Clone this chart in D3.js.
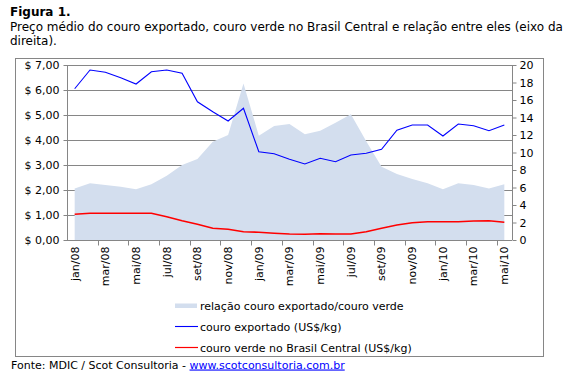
<!DOCTYPE html>
<html><head><meta charset="utf-8">
<script src="https://cdn.jsdelivr.net/npm/d3@7"></script>
<style>
html,body{margin:0;padding:0;background:#fff;}
svg{display:block;}
text{font-family:"DejaVu Sans",Verdana,sans-serif;}
</style></head>
<body>
<svg id="c" width="569" height="381"></svg>
<script>
const months = ["jan/08","fev/08","mar/08","abr/08","mai/08","jun/08","jul/08","ago/08","set/08","out/08","nov/08","dez/08",
  "jan/09","fev/09","mar/09","abr/09","mai/09","jun/09","jul/09","ago/09","set/09","out/09","nov/09","dez/09",
  "jan/10","fev/10","mar/10","abr/10","mai/10"];
const exportado = [6.05,6.80,6.71,6.49,6.24,6.73,6.80,6.67,5.53,5.13,4.76,5.27,3.53,3.45,3.23,3.04,3.27,3.13,3.40,3.47,3.63,4.39,4.60,4.60,4.16,4.64,4.57,4.37,4.60];
const verde = [1.03,1.07,1.07,1.07,1.07,1.07,0.93,0.77,0.63,0.47,0.43,0.33,0.31,0.27,0.24,0.23,0.25,0.24,0.24,0.33,0.47,0.60,0.69,0.73,0.73,0.73,0.76,0.77,0.71];
const relacao = [5.9,6.48,6.29,6.1,5.79,6.36,7.35,8.57,9.26,11.24,12.0,17.9,11.92,13.03,13.26,12.1,12.5,13.4,14.36,11.3,8.38,7.54,6.97,6.48,5.79,6.48,6.29,5.9,6.36];
const leftTicks = [0,1,2,3,4,5,6,7];
const rightTicks = [0,2,4,6,8,10,12,14,16,18,20];
const titleBold = "Figura 1.";
const titleLines = ["Preço médio do couro exportado, couro verde no Brasil Central e relação entre eles (eixo da","direita)."];
const legendLabels = ["relação couro exportado/couro verde","couro exportado (US$/kg)","couro verde no Brasil Central (US$/kg)"];
const sourceText = "Fonte: MDIC / Scot Consultoria - ";
const sourceLink = "www.scotconsultoria.com.br";

const svg = d3.select("#c");
const L = 67, R = 512, T = 65, B = 240;
const grey = "#868686";

// titles
svg.append("text").attr("x",10).attr("y",16).attr("font-size",12).attr("font-weight","bold").attr("fill","#000").text(titleBold);
titleLines.forEach((t,i)=>svg.append("text").attr("x",10).attr("y",31+14*i).attr("font-size",12).attr("fill","#000").text(t));

// frame
svg.append("rect").attr("x",15.5).attr("y",58.5).attr("width",528).attr("height",298).attr("fill","#fff").attr("stroke",grey);

const x = d3.scaleBand().domain(months).range([L,R]).padding(0);
const cx = m => x(m) + x.bandwidth()/2;
const yL = d3.scaleLinear().domain([0,7]).range([B,T]);
const yR = d3.scaleLinear().domain([0,20]).range([B,T]);

// gridlines
svg.append("g").selectAll("line").data(leftTicks.filter(v=>v>0)).join("line")
  .attr("x1",L).attr("x2",R).attr("y1",d=>Math.round(yL(d))+0.5).attr("y2",d=>Math.round(yL(d))+0.5)
  .attr("stroke",grey).attr("stroke-width",1);

// area
const area = d3.area().x((d,i)=>cx(months[i])).y0(B).y1(d=>yR(d));
svg.append("path").datum(relacao).attr("d",area).attr("fill","#D3DEEE");

// lines
const lineL = d3.line().x((d,i)=>cx(months[i])).y(d=>yL(d));
svg.append("path").datum(verde).attr("d",lineL).attr("fill","none").attr("stroke","#FF0000").attr("stroke-width",1.6);
svg.append("path").datum(exportado).attr("d",lineL).attr("fill","none").attr("stroke","#0000FF").attr("stroke-width",1.1);

// axes
const fmt = v => "$ " + v.toFixed(2).replace(".",",");
const gL = svg.append("g").attr("transform",`translate(${L+0.5},0)`)
  .call(d3.axisLeft(yL).tickValues(leftTicks).tickFormat(fmt).tickSize(4).tickPadding(4));
const gR = svg.append("g").attr("transform",`translate(${R+0.5},0)`)
  .call(d3.axisRight(yR).tickValues(rightTicks).tickSize(4).tickPadding(3));
const gX = svg.append("g").attr("transform",`translate(0,${B+0.5})`)
  .call(d3.axisBottom(x).tickValues(months.filter((m,i)=>i%2===0)).tickSize(0).tickPadding(0));
[gL,gR,gX].forEach(g=>{
  g.selectAll("path.domain").attr("stroke",grey);
  g.selectAll(".tick line").attr("stroke",grey);
  g.selectAll("text").attr("font-family",'"DejaVu Sans",Verdana,sans-serif').attr("font-size",11).attr("fill","#000");
});
gL.select("path.domain").attr("d",`M0,${T}V${B}`);
gR.select("path.domain").attr("d",`M0,${T}V${B}`);
gX.select("path.domain").attr("d",`M${L},0H${R}`);
gX.selectAll(".tick text").attr("transform","rotate(-90)").attr("text-anchor","end")
  .attr("x",-6).attr("y",0).attr("dy","0.35em");
// x tick marks between categories every 2
const bounds = months.map((m,i)=>i).filter(i=>i%2===0 && i>0).map(i=>x(months[i]));
gX.append("g").selectAll("line").data(bounds).join("line")
  .attr("x1",d=>Math.round(d)+0.5).attr("x2",d=>Math.round(d)+0.5).attr("y1",0).attr("y2",5).attr("stroke",grey);

// legend
const lg = svg.append("g");
lg.append("rect").attr("x",175).attr("y",303.5).attr("width",22).attr("height",4.5).attr("fill","#D3DEEE");
lg.append("line").attr("x1",175).attr("x2",198).attr("y1",326.5).attr("y2",326.5).attr("stroke","#0000FF").attr("stroke-width",1.1);
lg.append("line").attr("x1",175).attr("x2",198).attr("y1",347.5).attr("y2",347.5).attr("stroke","#FF0000").attr("stroke-width",1.2);
legendLabels.forEach((t,i)=>lg.append("text").attr("x",200).attr("y",[309.5,330.5,351.5][i]).attr("font-size",11).attr("fill","#000").text(t));

// source
const src = svg.append("text").attr("x",11).attr("y",368.5).attr("font-size",11).attr("fill","#000");
src.append("tspan").text(sourceText);
src.append("tspan").attr("fill","#0000FF").attr("text-decoration","underline").text(sourceLink);
</script>
</body></html>
